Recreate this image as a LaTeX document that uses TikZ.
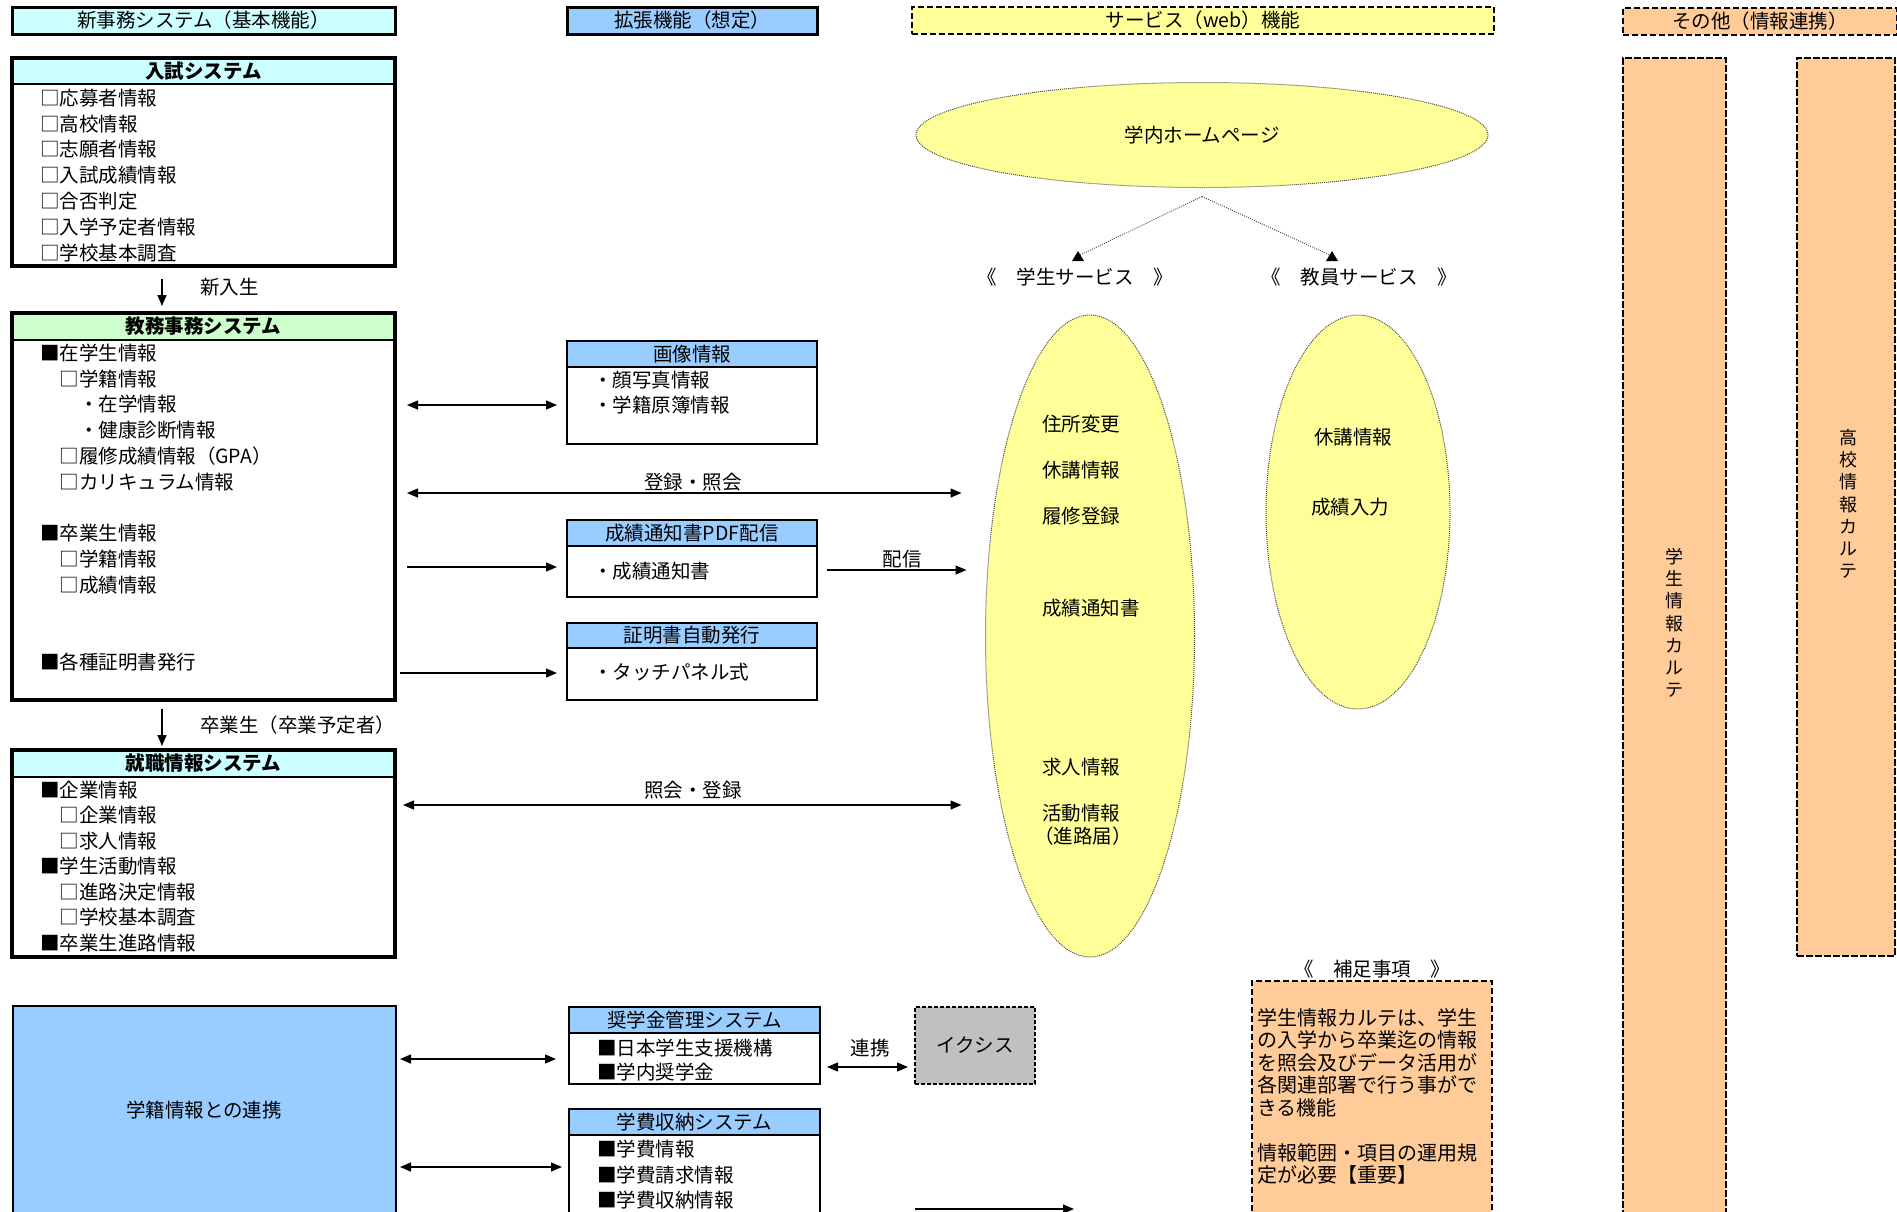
\documentclass[tikz,border=0pt]{standalone}
\usepackage{fontspec}
\setmainfont{Noto Sans CJK JP}
\usetikzlibrary{arrows.meta,calc,shapes.geometric}
\definecolor{lcyan}{HTML}{CCFFFF}
\definecolor{lgreen}{HTML}{CCFFCC}
\definecolor{lblue}{HTML}{99CCFF}
\definecolor{lyellow}{HTML}{FFFF99}
\definecolor{lorange}{HTML}{FFCC99}
\definecolor{lgray}{HTML}{C0C0C0}
\begin{document}
\begin{tikzpicture}[x=1pt,y=-1pt,
  every node/.style={inner sep=0pt,outer sep=0pt},
  txt/.style={font=\fontsize{19.5}{22}\selectfont,text height=15.6pt,text depth=1pt},
  item/.style={txt,anchor=west},
  note/.style={item,font=\fontsize{20}{22}\selectfont},
  hdr/.style={txt,anchor=north west},
  bhdr/.style={hdr,font=\fontsize{19.5}{22}\selectfont\bfseries},
  frame/.style={draw,line width=#1,anchor=north west},
  sep/.style={line width=2.5pt},
  dashbox/.style={draw,line width=2pt,dash pattern=on 6pt off 3pt,anchor=north west},
  barbox/.style={draw,line width=2.5pt,dash pattern=on 7pt off 2pt,anchor=north west},
  ell/.style={ellipse,draw=black!70,fill=lyellow,line width=1pt,dash pattern=on 1pt off 1pt},
  arr/.style={line width=1.3pt,-{Triangle[length=11pt,width=9pt]}},
  darr/.style={line width=1.3pt,{Triangle[length=11pt,width=9pt]}-{Triangle[length=11pt,width=9pt]}},
  dotline/.style={line width=0.9pt,draw=black!70,dash pattern=on 1pt off 1.2pt},
  vtxt/.style={align=center,font=\fontsize{18}{22.2}\selectfont},
]
\useasboundingbox (0,0) rectangle (1897,1211);
\clip (0,0) rectangle (1897,1211);
\fill[white] (0,0) rectangle (1897,1211);

% ---------- title row ----------
\node[frame=3pt,fill=lcyan,txt,anchor=north west,minimum width=383pt,minimum height=27pt] (t1) at (12,7) {新事務システム（基本機能）};
\node[frame=3pt,fill=lblue,txt,anchor=north west,minimum width=250pt,minimum height=27pt] (t2) at (567,7) {拡張機能（想定）};
\node[dashbox,fill=lyellow,txt,anchor=north west,minimum width=582pt,minimum height=27pt] (t3) at (912,7) {サービス（web）機能};
\node[dashbox,fill=lorange,txt,anchor=north west,minimum width=274pt,minimum height=27pt] (t4) at (1623,8) {その他（情報連携）};

% ---------- 入試システム ----------
\node[bhdr,fill=lcyan,minimum width=383pt,minimum height=26pt] (nyH) at (12,58) {入試システム};
\draw[sep] (nyH.south west) -- (nyH.south east);
\node[frame=3.2pt,minimum width=383pt,minimum height=208pt] (ny) at (12,58) {};
\foreach \t [count=\i from 0] in {□応募者情報,□高校情報,□志願者情報,□入試成績情報,□合否判定,□入学予定者情報,□学校基本調査}
  \node[item] (ny\i) at (40,98+25.8*\i) {\t};

% ---------- 教務事務システム ----------
\node[bhdr,fill=lgreen,minimum width=383pt,minimum height=27pt] (kyH) at (12,313) {教務事務システム};
\draw[sep] (kyH.south west) -- (kyH.south east);
\node[frame=3.2pt,minimum width=383pt,minimum height=387pt] (ky) at (12,313) {};
\foreach \t/\k in {■在学生情報/0,　□学籍情報/1,　　・在学情報/2,　　・健康診断情報/3,　□履修成績情報（GPA）/4,　□カリキュラム情報/5,■卒業生情報/7,　□学籍情報/8,　□成績情報/9,■各種証明書発行/12}
  \node[item] (ky\k) at (40,353+25.75*\k) {\t};

% ---------- 就職情報システム ----------
\node[bhdr,fill=lcyan,minimum width=383pt,minimum height=27pt] (sjH) at (12,750) {就職情報システム};
\draw[sep] (sjH.south west) -- (sjH.south east);
\node[frame=3.2pt,minimum width=383pt,minimum height=207pt] (sj) at (12,750) {};
\foreach \t [count=\i from 0] in {■企業情報,　□企業情報,　□求人情報,■学生活動情報,　□進路決定情報,　□学校基本調査,■卒業生進路情報}
  \node[item] (sj\i) at (40,790+25.5*\i) {\t};

% ---------- flow labels ----------
\node[item] (lb1) at (200,287) {新入生};
\node[item] (lb2) at (200,725) {卒業生（卒業予定者）};
\draw[arr] ($(ny.south west)+(150,13)$) -- ($(ky.north west)+(150,-7)$);
\draw[arr] ($(ky.south west)+(150,9)$) -- ($(sj.north west)+(150,-4)$);

% ---------- 学籍情報との連携 ----------
\node[frame=2pt,fill=lblue,txt,minimum width=383pt,minimum height=230pt] (gk) at (13,1006) {};
\node[txt] (gkt) at (204,1110) {学籍情報との連携};

% ---------- middle boxes ----------
\node[hdr,fill=lblue,minimum width=250pt,minimum height=26pt] (gzH) at (567,341) {画像情報};
\draw[sep] (gzH.south west) -- (gzH.south east);
\node[frame=2.7pt,minimum width=250pt,minimum height=103pt] (gz) at (567,341) {};
\node[item] (gz1) at (593,380) {・顔写真情報};
\node[item] (gz2) at (593,405) {・学籍原簿情報};

\node[hdr,fill=lblue,minimum width=250pt,minimum height=26pt] (pdfH) at (567,520) {成績通知書PDF配信};
\draw[sep] (pdfH.south west) -- (pdfH.south east);
\node[frame=2.7pt,minimum width=250pt,minimum height=77pt] (pdf) at (567,520) {};
\node[item] (pdf1) at (593,571) {・成績通知書};

\node[hdr,fill=lblue,minimum width=250pt,minimum height=25pt] (ceH) at (567,623) {証明書自動発行};
\draw[sep] (ceH.south west) -- (ceH.south east);
\node[frame=2.7pt,minimum width=250pt,minimum height=77pt] (ce) at (567,623) {};
\node[item] (ce1) at (593,672) {・タッチパネル式};

\node[hdr,fill=lblue,minimum width=251pt,minimum height=26pt] (schH) at (569,1007) {奨学金管理システム};
\draw[sep] (schH.south west) -- (schH.south east);
\node[frame=2.7pt,minimum width=251pt,minimum height=77pt] (sch) at (569,1007) {};
\node[item] (sch1) at (597,1048) {■日本学生支援機構};
\node[item] (sch2) at (597,1072) {■学内奨学金};

\node[hdr,fill=lblue,minimum width=251pt,minimum height=26pt] (feeH) at (569,1109) {学費収納システム};
\draw[sep] (feeH.south west) -- (feeH.south east);
\node[frame=2.7pt,minimum width=251pt,minimum height=130pt] (fee) at (569,1109) {};
\node[item] (fee1) at (597,1149) {■学費情報};
\node[item] (fee2) at (597,1175) {■学費請求情報};
\node[item] (fee3) at (597,1200) {■学費収納情報};

\node[frame=2pt,dash pattern=on 4pt off 2pt,fill=lgray,txt,minimum width=120pt,minimum height=77pt] (ix) at (915,1007) {イクシス};
\node[txt] (lrk) at (870,1048) {連携};

% ---------- web service ----------
\node[ell,minimum width=572pt,minimum height=105pt,txt] (hp) at (1202,135) {学内ホームページ};
\node[txt] (ss) at (1075,277) {《　学生サービス　》};
\node[txt] (ts) at (1359,277) {《　教員サービス　》};
\coordinate (hpb) at ($(hp.south)+(0,9)$);
\coordinate (tipA) at (1078,256);
\coordinate (tipB) at (1332,256);
\draw[dotline] (hpb) -- (tipA);
\draw[dotline] (hpb) -- (tipB);
\fill ($(tipA)+(0,-5)$) -- ($(tipA)+(-6,5)$) -- ($(tipA)+(6,5)$) -- cycle;
\fill ($(tipB)+(0,-5)$) -- ($(tipB)+(-6,5)$) -- ($(tipB)+(6,5)$) -- cycle;

\node[ell,minimum width=209pt,minimum height=642pt] (e1) at (1090,636) {};
\foreach \t/\yy in {住所変更/424,休講情報/470,履修登録/516,成績通知書/608,求人情報/767,活動情報/813}
  \node[item] (e1\yy) at (1042,\yy) {\t};
\node[item] (e1x) at (1034,836) {（進路届）};

\node[ell,minimum width=184pt,minimum height=394pt] (e2) at (1358,512) {};
\node[item] (e2a) at (1314,437) {休講情報};
\node[item] (e2b) at (1311,507) {成績入力};

% ---------- connectors ----------
\coordinate (y405) at (0,405);
\coordinate (y493) at (0,493);
\coordinate (y567) at (0,567);
\coordinate (y570) at (0,570);
\coordinate (y673) at (0,673);
\coordinate (y805) at (0,805);
\coordinate (y1059) at (0,1059);
\coordinate (y1067) at (0,1067);
\coordinate (y1167) at (0,1167);
\draw[darr] ($(ky.east |- y405)+(12,0)$) -- ($(gz.west |- y405)+(-10,0)$);
\draw[darr] ($(ky.east |- y493)+(12,0)$) -- ($(e1.west |- y493)+(-24,0)$);
\node[txt] (l1) at (693,482) {登録・照会};
\draw[arr] ($(ky.east |- y567)+(12,0)$) -- ($(pdf.west |- y567)+(-10,0)$);
\draw[arr] ($(pdf.east |- y570)+(10,0)$) -- ($(e1.west |- y570)+(-19,0)$);
\node[txt] (l2) at (902,559) {配信};
\draw[arr] ($(ky.east |- y673)+(5,0)$) -- ($(ce.west |- y673)+(-10,0)$);
\draw[darr] ($(sj.east |- y805)+(8,0)$) -- ($(e1.west |- y805)+(-24,0)$);
\node[txt] (l3) at (693,790) {照会・登録};
\draw[darr] ($(gk.east |- y1059)+(4,0)$) -- ($(sch.west |- y1059)+(-13,0)$);
\draw[darr] ($(gk.east |- y1167)+(4,0)$) -- ($(fee.west |- y1167)+(-7,0)$);
\draw[darr] ($(sch.east |- y1067)+(7,0)$) -- ($(ix.west |- y1067)+(-7,0)$);
\coordinate (ba1) at (915,1209);
\coordinate (ba2) at (1074,1209);
\draw[arr] (ba1) -- (ba2);

% ---------- その他 ----------
\node[barbox,fill=lorange,minimum width=103pt,minimum height=1180pt] (kb1) at (1623,58) {};
\node[vtxt] (kt1) at (1674,623) {学\\生\\情\\報\\カ\\ル\\テ};
\node[barbox,fill=lorange,minimum width=98pt,minimum height=898pt] (kb2) at (1797,58) {};
\node[vtxt] (kt2) at (1848,504) {高\\校\\情\\報\\カ\\ル\\テ};

% ---------- 補足事項 ----------
\node[txt] (hs) at (1372,969) {《　補足事項　》};
\node[dashbox,fill=lorange,minimum width=240pt,minimum height=250pt] (hb) at (1252,981) {};
\foreach \t/\yy in {学生情報カルテは、学生/1018,の入学から卒業迄の情報/1040.5,を照会及びデータ活用が/1063,各関連部署で行う事がで/1085.5,きる機能/1108,情報範囲・項目の運用規/1153,定が必要【重要】/1175.5}
  \node[note] (hb\yy) at (1257,\yy) {\t};
\end{tikzpicture}
\end{document}
